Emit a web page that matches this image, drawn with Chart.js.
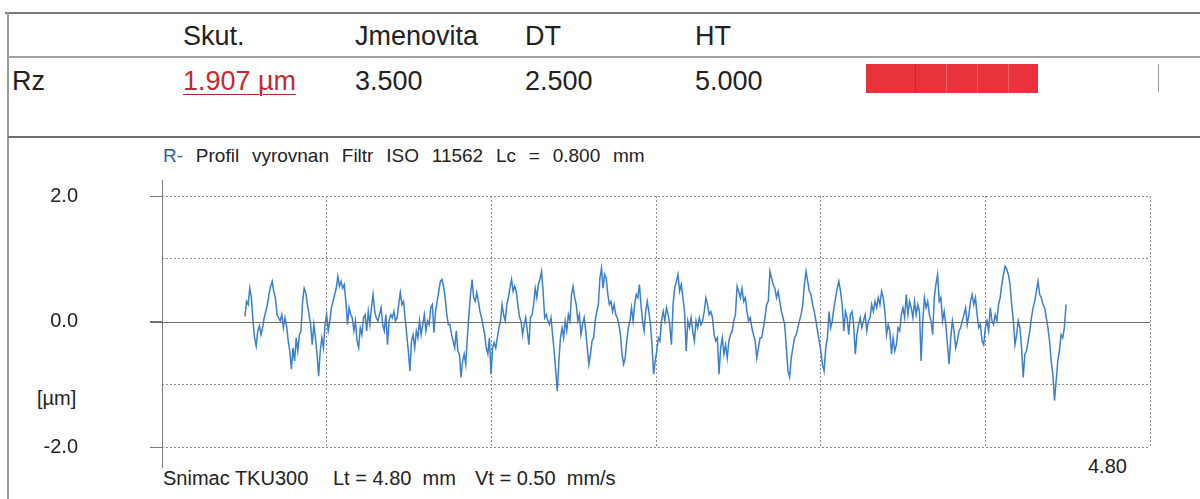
<!DOCTYPE html>
<html>
<head>
<meta charset="utf-8">
<script src="https://cdn.jsdelivr.net/npm/chart.js@4.4.0/dist/chart.umd.min.js"></script>
<style>
  body { margin: 0; width: 1200px; height: 499px; position: relative; overflow: hidden; background: #fff;
         font-family: "Liberation Sans", Arial, sans-serif; color: #222; }
  .t { position: absolute; white-space: pre; line-height: 1; }
  .h { font-size: 27px; }
  .hl { position: absolute; background: #8a8a8a; }
  #plot { position: absolute; left: 0; top: 140px; }
</style>
</head>
<body>

<!-- table lines -->
<div class="hl" style="left:5px;top:12px;width:1195px;height:2px;background:#7a7a7a"></div>
<div class="hl" style="left:7px;top:12px;width:2px;height:487px;background:#9a9a9a"></div>
<div class="hl" style="left:8px;top:56px;width:1192px;height:2px;background:#a0a0a0"></div>
<div class="hl" style="left:8px;top:136px;width:1192px;height:2px;background:#6e6e6e"></div>
<div class="hl" style="left:1158px;top:64px;width:1px;height:28px;background:#999"></div>

<!-- header row -->
<div class="t h" style="left:183px;top:23px">Skut.</div>
<div class="t h" style="left:355px;top:23px">Jmenovita</div>
<div class="t h" style="left:525px;top:23px">DT</div>
<div class="t h" style="left:695px;top:23px">HT</div>

<!-- value row -->
<div class="t h" style="left:12px;top:68px">Rz</div>
<div class="t h" style="left:183px;top:68px;color:#c42a2e;text-decoration:underline;text-decoration-color:#a8262a;text-decoration-thickness:1px;text-underline-offset:4px">1.907 µm</div>
<div class="t h" style="left:355px;top:68px">3.500</div>
<div class="t h" style="left:525px;top:68px">2.500</div>
<div class="t h" style="left:695px;top:68px">5.000</div>

<!-- tolerance bar -->
<div style="position:absolute;left:866px;top:64px;width:172px;height:29px;background:#e8323c;display:flex">
  <div style="width:49px;border-right:1px solid #c9252d"></div>
  <div style="width:30px;border-right:1px solid #f05a62"></div>
  <div style="width:30px;border-right:1px solid #f05a62"></div>
  <div style="width:30px;border-right:1px solid #f05a62"></div>
</div>

<!-- chart texts -->
<div class="t" style="left:163px;top:146px;font-size:19px;word-spacing:7.5px"><span style="color:#2d5f9e">R-</span> Profil vyrovnan Filtr ISO 11562 Lc = 0.800 mm</div>
<div class="t" style="left:37px;top:388px;font-size:20px">[µm]</div>
<div class="t" style="left:163px;top:468px;font-size:20px">Snimac TKU300</div>
<div class="t" style="left:333px;top:468px;font-size:20px">Lt = 4.80  mm</div>
<div class="t" style="left:475px;top:468px;font-size:20px">Vt = 0.50  mm/s</div>
<div class="t" style="left:1088px;top:456px;font-size:20px">4.80</div>

<canvas id="plot" width="1200" height="359"></canvas>

<script>
// axis setup (mm / µm)
const xRangeMm = [0, 4.8];
const xGridMm = [0, 0.8, 1.6, 2.4, 3.2, 4.0, 4.8];
const yRangeUm = [-2, 2];
const yLabelled = [2, 0, -2];

// profile, four stretches of the trace
const segStartMm = [0.403, 1.399, 2.419, 3.440];
const segEndMm = [1.399, 2.419, 3.440, 4.392];

const profileSeg1 = [
  0.08,0.32,0.27,0.53,0.38,0.01,-0.26,-0.39,-0.15,-0.07,
  -0.21,-0.10,0.06,0.16,0.27,0.43,0.56,0.64,0.48,0.38,
  0.11,0.06,0.01,0.11,-0.10,0.06,-0.07,-0.31,-0.47,-0.76,
  -0.42,-0.63,-0.26,-0.47,-0.21,-0.15,0.32,0.53,0.46,0.27,
  0.11,-0.05,-0.37,-0.05,-0.26,-0.52,-0.87,-0.47,-0.26,-0.42,
  -0.05,0.11,-0.15,0.01,0.22,0.32,0.43,0.53,0.72,0.56,
  0.64,0.53,0.59,0.32,-0.05,0.22,0.11,0.06,-0.15,0.01,
  -0.31,-0.42,-0.10,-0.21,0.06,0.11,-0.15,0.16,-0.05,0.22,
  0.43,0.16,0.06,0.01,0.11,0.22,-0.05,-0.15,0.11,-0.37,
  0.01,0.11,0.06,0.16,0.01,0.06,0.27,0.46,0.27,0.32,
  0.06,-0.21,-0.47,-0.79,-0.31,-0.21,-0.42,-0.15,-0.26,0.01,
  -0.21,-0.05,0.11,-0.15,0.01,-0.05,0.22,0.27,-0.18,0.16,
  0.32,0.48,0.64,0.67,0.56,0.38,0.11,-0.05
];
const profileSeg2 = [
  -0.05,-0.21,-0.31,-0.42,-0.15,-0.47,-0.52,-0.89,-0.63,-0.52,
  -0.68,-0.26,0.11,0.43,0.67,0.38,0.32,0.46,0.32,0.16,
  0.06,-0.07,-0.21,-0.42,-0.52,-0.26,-0.84,-0.42,-0.34,-0.42,
  -0.26,-0.10,0.01,0.27,0.11,0.01,0.27,0.38,0.53,0.67,
  0.48,0.56,0.48,0.27,0.08,0.01,-0.21,-0.05,0.06,-0.15,
  -0.37,0.06,0.11,0.27,0.53,0.38,0.59,0.67,0.80,0.48,
  0.06,0.11,0.01,-0.05,0.06,-0.21,-0.47,-0.79,-1.11,-0.63,
  -0.26,-0.10,-0.26,0.01,-0.15,0.11,0.01,0.43,0.56,0.38,
  0.27,0.01,0.11,-0.21,-0.05,0.06,-0.15,-0.42,-0.68,-0.52,
  -0.31,-0.26,0.01,0.16,0.27,0.69,0.85,0.53,0.75,0.69,
  0.43,0.27,0.32,0.16,0.27,0.11,0.06,-0.05,-0.21,-0.52,
  -0.68,-0.58,-0.31,-0.10,0.01,0.22,0.01,0.27,0.43,0.38,
  0.59,0.27,0.01,-0.15,0.16,0.32,0.16,-0.05,-0.37,-0.84,
  -0.63,-0.47,-0.26
];
const profileSeg3 = [
  -0.31,0.01,0.16,0.01,0.22,0.11,-0.05,-0.37,0.27,0.53,
  0.64,0.75,0.48,0.59,0.38,0.16,-0.47,0.01,-0.10,0.06,
  -0.15,-0.31,0.01,-0.10,0.06,-0.05,0.01,0.16,0.38,0.27,
  0.11,0.16,0.06,-0.21,-0.31,-0.26,-0.84,-0.42,-0.26,-0.52,
  -0.37,-0.58,-0.31,-0.21,-0.15,0.01,0.11,0.56,0.48,0.38,
  0.53,0.32,0.38,0.16,0.01,0.06,-0.10,-0.21,-0.31,-0.58,
  -0.42,-0.26,-0.26,-0.10,0.06,0.27,0.32,0.80,0.69,0.59,
  0.53,0.38,0.48,0.32,0.16,0.06,-0.05,-0.42,-0.79,-0.89,
  -0.58,-0.42,-0.26,-0.21,-0.10,0.01,0.11,0.27,0.59,0.80,
  0.64,0.48,0.43,0.27,0.16,0.01,-0.15,-0.31,-0.47,-0.68,
  -0.79,-0.42,-0.26,0.16,-0.10,0.01,0.22,0.38,0.53,0.64,
  0.48,0.27,-0.15,0.16,0.06,-0.21,0.11,0.16,-0.05,-0.52,
  -0.21,-0.05,0.06,-0.10,0.01,0.11,-0.15,0.01
];
const profileSeg4 = [
  0.06,0.27,0.16,0.32,0.22,0.38,0.27,0.48,0.38,0.16,
  -0.21,-0.05,-0.15,-0.52,-0.26,-0.47,-0.37,-0.10,-0.15,0.11,
  0.22,0.06,0.43,0.11,0.32,0.22,0.06,0.32,0.11,0.27,
  0.16,-0.63,0.01,0.38,0.22,0.32,0.11,0.01,-0.21,0.38,
  0.59,0.75,0.32,0.38,0.01,0.16,-0.05,-0.37,-0.68,-0.26,
  0.01,-0.15,-0.42,-0.31,-0.15,-0.10,0.01,0.11,0.22,-0.05,
  0.11,0.32,0.43,0.27,0.38,0.11,-0.10,-0.05,-0.31,-0.37,
  -0.10,0.01,-0.15,0.22,0.01,-0.05,0.11,0.01,0.27,0.38,
  0.59,0.75,0.88,0.83,0.75,0.59,0.27,0.01,-0.37,-0.21,
  0.01,-0.10,-0.42,-0.89,-0.52,-0.47,-0.31,-0.15,0.06,0.22,
  0.32,0.48,0.64,0.43,0.38,0.27,0.22,0.06,-0.10,-0.31,
  -0.63,-0.84,-1.26,-0.95,-0.63,-0.47,-0.21,-0.26,-0.10,0.27
];

const segments = [profileSeg1, profileSeg2, profileSeg3, profileSeg4];
let points = [];
segments.forEach((seg, s) => {
  const last = s === segments.length - 1;
  const step = (segEndMm[s] - segStartMm[s]) / (last ? seg.length - 1 : seg.length);
  seg.forEach((v, i) => points.push({ x: segStartMm[s] + i * step, y: v }));
});

// solid zero line + long left axis, like the printout
const frame = {
  id: 'frame',
  afterDatasetsDraw(chart) {
    const { ctx, chartArea, scales } = chart;
    ctx.save();
    ctx.strokeStyle = '#6f6f6f';
    ctx.lineWidth = 1;
    let y0 = Math.round(scales.y.getPixelForValue(0)) + 0.5;
    ctx.beginPath();
    ctx.moveTo(chartArea.left - 12, y0);
    ctx.lineTo(chartArea.right, y0);
    ctx.stroke();
    let xa = Math.round(chartArea.left) + 0.5;
    ctx.strokeStyle = '#7a7a7a';
    ctx.beginPath();
    ctx.moveTo(xa, chartArea.top - 16);
    ctx.lineTo(xa, chartArea.bottom + 21);
    ctx.stroke();
    ctx.restore();
  }
};

new Chart(document.getElementById('plot'), {
  type: 'line',
  data: {
    datasets: [{
      data: points,
      borderColor: '#3a80cc',
      borderWidth: 1.5,
      pointRadius: 0,
      tension: 0,
      fill: false
    }]
  },
  options: {
    responsive: false,
    animation: false,
    devicePixelRatio: 1,
    layout: { padding: { top: 56, right: 50, bottom: 52, left: 0 } },
    plugins: { legend: { display: false }, tooltip: { enabled: false } },
    scales: {
      x: {
        type: 'linear',
        min: xRangeMm[0],
        max: xRangeMm[1],
        afterBuildTicks: s => { s.ticks = xGridMm.map(v => ({ value: v })); },
        afterFit: s => { s.height = 0; s.paddingLeft = 0; s.paddingRight = 0; },
        ticks: { display: false },
        border: { display: false, dash: [2, 2] },
        grid: { color: '#8c8c8c', lineWidth: 1, drawTicks: false }
      },
      y: {
        min: yRangeUm[0],
        max: yRangeUm[1],
        afterFit: s => { s.width = 162; s.paddingTop = 0; s.paddingBottom = 0; },
        ticks: {
          stepSize: 1,
          padding: 72,
          color: '#222',
          font: { family: '"Liberation Sans", Arial, sans-serif', size: 20 },
          callback: v => yLabelled.includes(v) ? v.toFixed(1) : ''
        },
        border: { display: false, dash: [2, 2] },
        grid: {
          color: c => c.tick && c.tick.value === 0 ? 'rgba(0,0,0,0)' : '#8c8c8c',
          tickColor: c => c.tick && yLabelled.includes(c.tick.value) ? '#7a7a7a' : 'rgba(0,0,0,0)',
          tickLength: 12,
          tickBorderDash: []
        }
      }
    }
  },
  plugins: [frame]
});
</script>
</body>
</html>
